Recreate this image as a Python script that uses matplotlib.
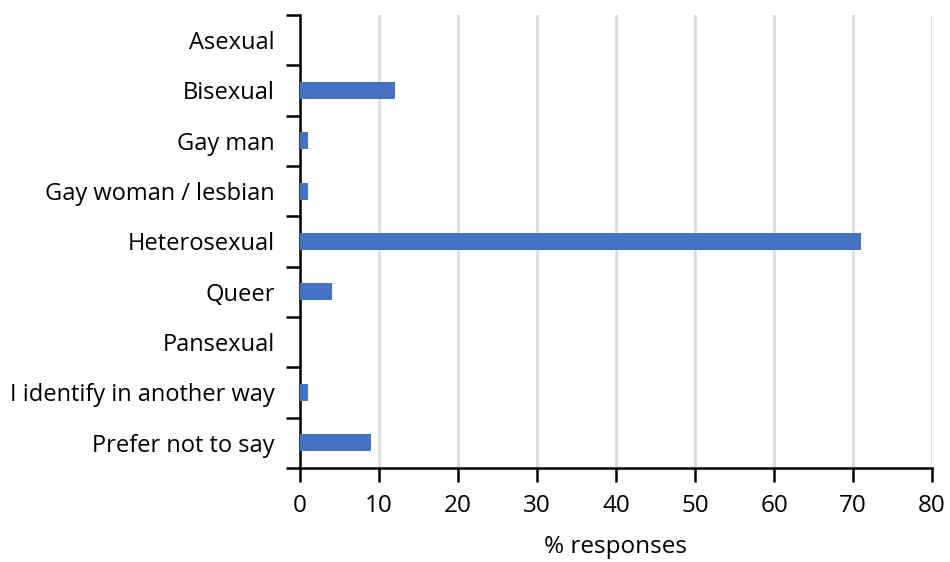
import numpy as np
import matplotlib.pyplot as plt
from matplotlib.ticker import FixedLocator, NullFormatter

# Survey responses: sexual orientation
categories = [
    "Asexual",
    "Bisexual",
    "Gay man",
    "Gay woman / lesbian",
    "Heterosexual",
    "Queer",
    "Pansexual",
    "I identify in another way",
    "Prefer not to say",
]
percent = [0, 12, 1, 1, 71, 4, 0, 1, 9]
x_ticks = [0, 10, 20, 30, 40, 50, 60, 70, 80]

plt.rcParams['font.family'] = ['Open Sans', 'DejaVu Sans']

fig = plt.figure(figsize=(9.5, 5.62), dpi=100)
ax = fig.add_axes([300 / 950, 1 - 468 / 562, 632 / 950, 453 / 562])

y = np.arange(len(categories))
ax.barh(y, percent, height=0.34, color='#4472C4', zorder=3)

ax.set_xlim(0, 80)
ax.set_ylim(len(categories) - 0.5, -0.5)
ax.set_xticks(x_ticks)
ax.set_xticklabels([str(t) for t in x_ticks])
ax.set_yticks(y)
ax.set_yticklabels(categories)

# category boundaries get the tick marks, labels sit between them
ax.yaxis.set_minor_locator(FixedLocator(np.arange(-0.5, len(categories), 1)))
ax.yaxis.set_minor_formatter(NullFormatter())
ax.tick_params(axis='y', which='major', length=0, pad=18, labelsize=17)
ax.tick_params(axis='y', which='minor', length=10, width=1.8, direction='out')
ax.tick_params(axis='x', which='major', length=10, width=1.8, direction='out',
               pad=9, labelsize=17.5)

ax.grid(axis='x', color='#d9d9d9', linewidth=1.8, zorder=0)
for side in ('top', 'right'):
    ax.spines[side].set_visible(False)
for side in ('left', 'bottom'):
    ax.spines[side].set_linewidth(1.8)

ax.set_xlabel('% responses', fontsize=17.5, labelpad=12)

fig.savefig('out.png', dpi=100)
